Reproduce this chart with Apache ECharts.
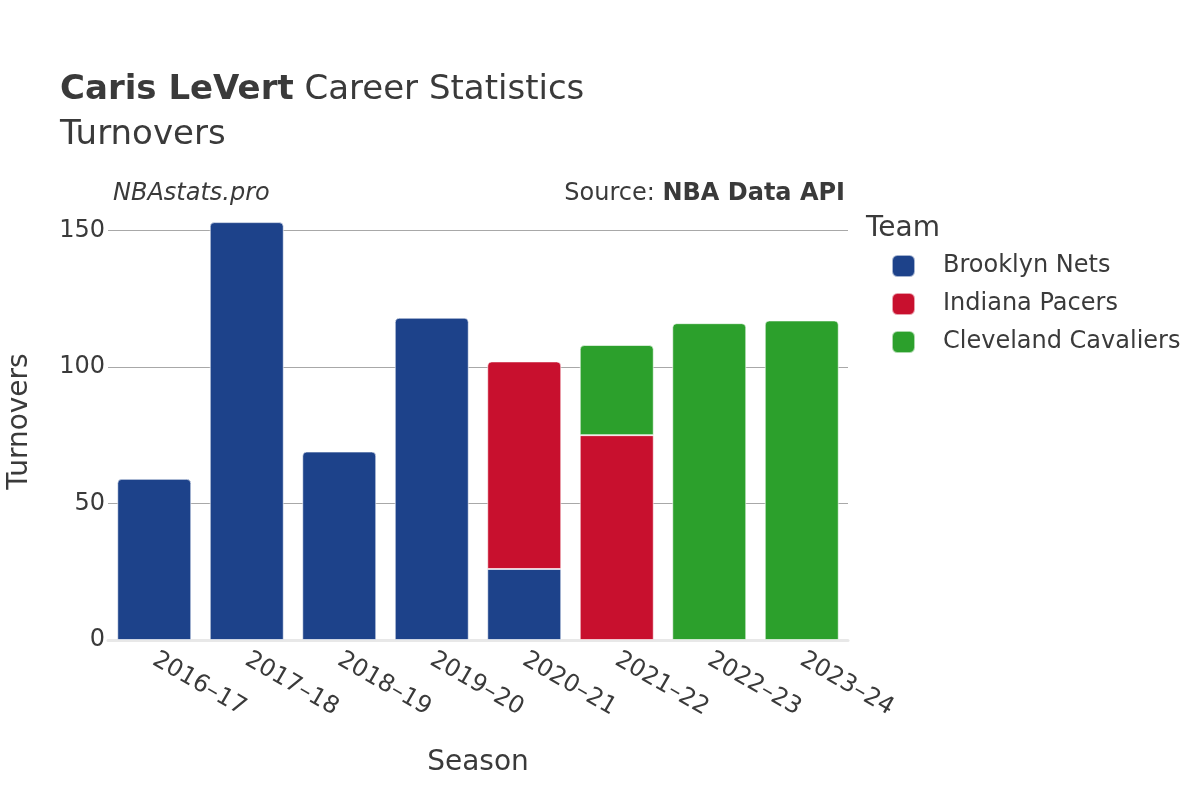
<!DOCTYPE html>
<html><head><meta charset="utf-8">
<script src="https://cdn.jsdelivr.net/npm/echarts@6/dist/echarts.min.js"></script>
<style>html,body{margin:0;padding:0;background:#fff}#c{width:1200px;height:800px}</style>
</head><body><div id="c"></div>
<script>
const seasons = ['2016–17','2017–18','2018–19','2019–20','2020–21','2021–22','2022–23','2023–24'];
const teams = ['Brooklyn Nets','Indiana Pacers','Cleveland Cavaliers'];
const teamColors = ['#1d428a','#c8102e','#2ca02c'];
const brooklyn = [59,153,69,118,26,0,0,0];
const indiana = [0,0,0,0,76,75,0,0];
const cleveland = [0,0,0,0,0,33,116,117];
const yTicks = [0,50,100,150];

const values = [brooklyn, indiana, cleveland];
const FONT = 'DejaVu Sans';
const TXT = '#3a3a3a';
const series = values.map((vals, si) => ({
  name: teams[si],
  type: 'bar',
  stack: 'total',
  barCategoryGap: '20%',
  itemStyle: {color: teamColors[si], borderColor: 'rgba(255,255,255,0.6)', borderWidth: 1},
  data: vals.map((v, ci) => {
    if (!v) return null;
    let isTop = true;
    for (let k = si + 1; k < values.length; k++) if (values[k][ci]) isTop = false;
    return {value: v, itemStyle: {borderRadius: isTop ? [4,4,0,0] : 0}};
  })
}));

const rich = (size) => ({
  b: {fontFamily: FONT, fontWeight: 'bold', fontSize: size, color: TXT},
  n: {fontFamily: FONT, fontWeight: 'normal', fontSize: size, color: TXT}
});

const chart = echarts.init(document.getElementById('c'));
chart.setOption({
  animation: false,
  textStyle: {fontFamily: FONT},
  title: [
    {left: 60, top: 73, padding: 0, text: '{b|Caris LeVert}{n| Career Statistics}',
     textStyle: {fontWeight: 'normal', rich: rich(34)}},
    {left: 60, top: 118, padding: 0, text: 'Turnovers', textStyle: {fontFamily: FONT, fontSize: 34, fontWeight: 'normal', color: TXT}},
    {left: 113, top: 182, padding: 0, text: 'NBAstats.pro', textStyle: {fontFamily: FONT, fontSize: 24, fontStyle: 'italic', fontWeight: 'normal', color: TXT}},
    {right: 355, top: 182, padding: 0, text: '{n|Source: }{b|NBA Data API}',
     textStyle: {fontWeight: 'normal', rich: rich(24)}},
    {left: 866, top: 215, padding: 0, text: 'Team', textStyle: {fontFamily: FONT, fontSize: 28, fontWeight: 'normal', color: TXT}}
  ],
  legend: {
    orient: 'vertical', left: 891, top: 254, padding: 0, icon: 'roundRect',
    itemWidth: 23, itemHeight: 22, itemGap: 14,
    textStyle: {fontFamily: FONT, fontSize: 24, color: TXT, padding: [0,0,0,23]},
    data: teams
  },
  grid: {left: 108, right: 352, top: 203, bottom: 160, containLabel: false, outerBoundsMode: 'none'},
  xAxis: {
    type: 'category', data: seasons,
    name: 'Season', nameLocation: 'middle', nameGap: 109,
    nameTextStyle: {fontFamily: FONT, fontSize: 28, color: TXT},
    axisLine: {show: true, lineStyle: {color: '#e8e8e8', width: 3}},
    axisTick: {show: false},
    axisLabel: {rotate: -30, fontFamily: FONT, fontSize: 24, color: TXT, margin: 18}
  },
  yAxis: {
    type: 'value', min: 0, max: 160, interval: 50,
    name: 'Turnovers', nameLocation: 'middle', nameGap: 74,
    nameTextStyle: {fontFamily: FONT, fontSize: 28, color: TXT},
    axisLine: {show: false}, axisTick: {show: false},
    axisLabel: {fontFamily: FONT, fontSize: 24, color: TXT, margin: 3, showMaxLabel: false,
      formatter: v => yTicks.includes(v) ? String(v) : ''},
    splitLine: {show: true, showMinLine: false, showMaxLine: false, lineStyle: {color: '#a8a8a8', width: 1}}
  },
  series: series
});
</script></body></html>
